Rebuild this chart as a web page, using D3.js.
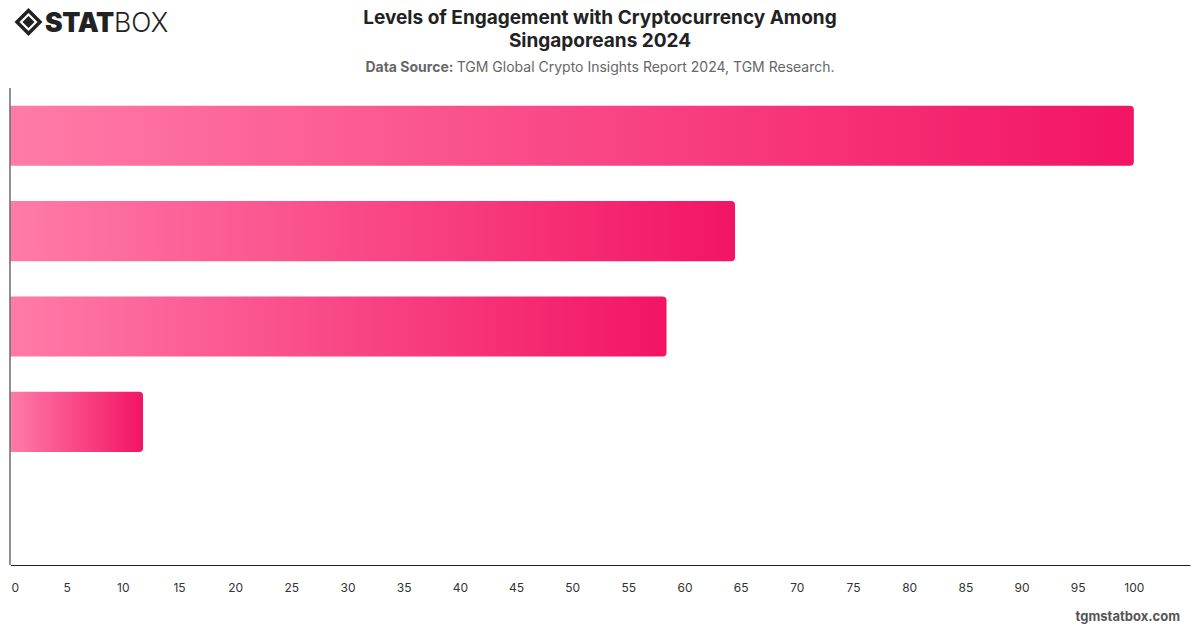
<!DOCTYPE html>
<html>
<head>
<meta charset="utf-8">
<script src="https://cdn.jsdelivr.net/npm/d3@7"></script>
<style>
  body { margin: 0; background: #fff; font-family: Inter, "Noto Sans", sans-serif; }
  svg { display: block; }
</style>
</head>
<body>
<script>
const categories = ['Heard of cryptocurrency', 'Researched cryptocurrency', 'Owned cryptocurrency', 'Plan to buy', '']
const values = [100, 64.5, 58.4, 11.8, 0]
const ticks = d3.range(0, 101, 5)

const W = 1200
const H = 628
const margin = { top: 88, right: 10, bottom: 63, left: 10.5 }

const svg = d3.select('body')
  .append('svg')
  .attr('width', W)
  .attr('height', H)

const defs = svg.append('defs')
const grad = defs.append('linearGradient')
  .attr('id', 'barGrad')
  .attr('x1', '0%').attr('x2', '100%')
  .attr('y1', '0%').attr('y2', '0%')
grad.append('stop').attr('offset', '0%').attr('stop-color', '#ff7ba8')
grad.append('stop').attr('offset', '100%').attr('stop-color', '#f31465')

const x = d3.scaleLinear()
  .domain([0, 105])
  .range([margin.left, W - margin.right])

const y = d3.scaleBand()
  .domain(categories.map((d, i) => i))
  .range([margin.top, H - margin.bottom])
  .paddingInner(0.37)
  .paddingOuter(0.185)

// bars, rounded on the right end only
const r = 4
const barPath = (x0, x1, y0, h) => {
  const rr = Math.min(r, (x1 - x0) / 2)
  return `M${x0},${y0}H${x1 - rr}Q${x1},${y0} ${x1},${y0 + rr}V${y0 + h - rr}Q${x1},${y0 + h} ${x1 - rr},${y0 + h}H${x0}Z`
}

svg.append('g')
  .selectAll('path')
  .data(values.map((v, i) => ({ v, i })).filter(d => d.v > 0))
  .enter()
  .append('path')
  .attr('d', d => barPath(x(0), x(d.v), y(d.i), y.bandwidth()))
  .attr('fill', 'url(#barGrad)')

// axes
const xAxis = d3.axisBottom(x)
  .tickValues(ticks)
  .tickSize(0)
  .tickPadding(18)

const gx = svg.append('g')
  .attr('transform', `translate(0,${H - margin.bottom})`)
  .call(xAxis)
gx.select('.domain').attr('stroke', '#222').attr('stroke-width', 1)
gx.selectAll('text')
  .attr('font-family', 'Inter, sans-serif')
  .attr('font-size', 12)
  .attr('fill', '#333')
// first label kept inside the plot edge
gx.selectAll('.tick text')
  .filter(d => d === 0)
  .attr('text-anchor', 'start')
  .attr('dx', 0.5)

svg.append('line')
  .attr('x1', x(0) - 0.5).attr('x2', x(0) - 0.5)
  .attr('y1', margin.top).attr('y2', H - margin.bottom)
  .attr('stroke', '#222')

// title
const title = svg.append('text')
  .attr('x', 600)
  .attr('text-anchor', 'middle')
  .attr('font-weight', 700)
  .attr('font-size', 19)
  .attr('fill', '#222')
title.append('tspan').attr('x', 600).attr('y', 24).text('Levels of Engagement with Cryptocurrency Among')
title.append('tspan').attr('x', 600).attr('y', 47).text('Singaporeans 2024')

const sub = svg.append('text')
  .attr('x', 600)
  .attr('y', 72)
  .attr('text-anchor', 'middle')
  .attr('font-size', 14)
  .attr('fill', '#666')
sub.append('tspan').attr('font-weight', 700).text('Data Source: ')
sub.append('tspan').text('TGM Global Crypto Insights Report 2024, TGM Research.')

// watermark
svg.append('text')
  .attr('x', 1180)
  .attr('y', 621)
  .attr('text-anchor', 'end')
  .attr('font-size', 13)
  .attr('font-weight', 700)
  .attr('fill', '#555')
  .text('tgmstatbox.com')

// logo
const logo = svg.append('g').attr('transform', 'translate(28.5,22)')
logo.append('path')
  .attr('d', 'M0,-11.5L11.5,0L0,11.5L-11.5,0Z')
  .attr('fill', 'none')
  .attr('stroke', '#222')
  .attr('stroke-width', 3.5)
logo.append('path')
  .attr('d', 'M0,-6L6,0L0,6L-6,0Z')
  .attr('fill', '#222')
svg.append('text')
  .attr('x', 45)
  .attr('y', 31.5)
  .attr('font-size', 26.5)
  .attr('font-weight', 900)
  .attr('fill', '#222')
  .attr('letter-spacing', -0.3)
  .text('STAT')
  .append('tspan')
  .attr('font-weight', 300)
  .attr('letter-spacing', 0)
  .text('BOX')
</script>
</body>
</html>
